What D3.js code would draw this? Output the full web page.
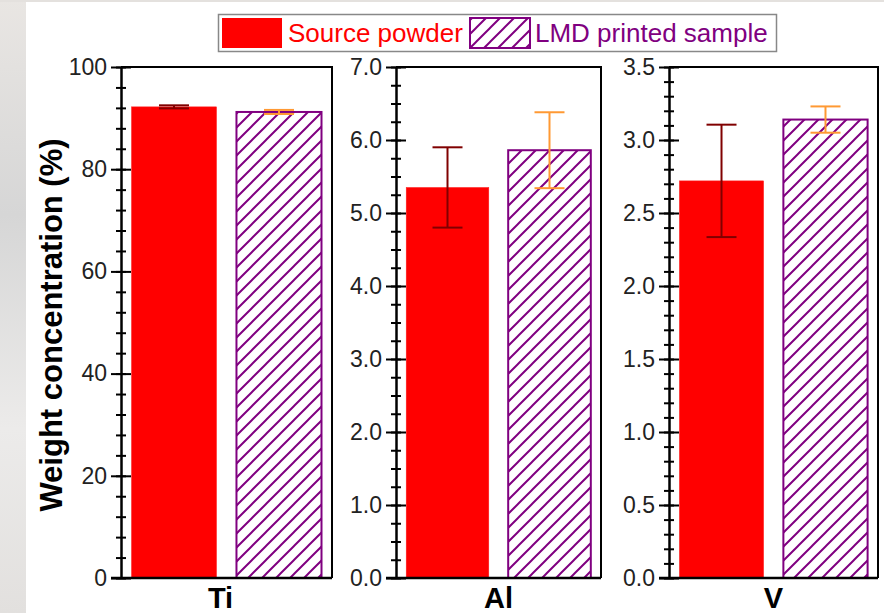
<!DOCTYPE html>
<html lang="en">

<head>
	<meta charset="UTF-8">
	<title>weight concentration</title>
	<script type="text/javascript" src="https://cdn.jsdelivr.net/npm/d3@7/dist/d3.min.js" charset="UTF-8"></script>
	<style>
		body { margin: 0; background: #fff; }
		text { font-family: 'Liberation Sans', Arial, sans-serif; }
	</style>
</head>

<body>
	<script type="text/javascript">
	// data
	let elements = ['Ti', 'Al', 'V']
	let series = ['Source powder', 'LMD printed sample']
	let sourceMean = [92.2, 5.35, 2.72]
	let sourceErr = [0.3, 0.55, 0.385]
	let lmdMean = [91.2, 5.86, 3.14]
	let lmdErr = [0.4, 0.52, 0.09]
	let yMax = [100, 7.0, 3.5]
	let majorStep = [20, 1, 0.5]
	let minorStep = [4, 0.25, 0.1]
	let tickFormat = ['d', '.1f', '.1f']

	let width = 884,
		height = 613;

	// layout of the three panels
	let panels = [
		{ left: 121, right: 332 },
		{ left: 396, right: 601 },
		{ left: 669, right: 878 }
	]
	let plotTop = 67,
		plotBottom = 578;

	let svg = d3.select('body').append('svg')
		.attr('width', width)
		.attr('height', height)

	let defs = svg.append('defs')

	let bg = defs.append('linearGradient')
		.attr('id', 'bg')
		.attr('x1', 0).attr('y1', 0).attr('x2', 0).attr('y2', 1)
	bg.append('stop').attr('offset', '0%').attr('stop-color', '#e9e6e3')
	bg.append('stop').attr('offset', '35%').attr('stop-color', '#d6d6d6')
	bg.append('stop').attr('offset', '70%').attr('stop-color', '#ecebea')
	bg.append('stop').attr('offset', '100%').attr('stop-color', '#e2e0de')

	let hatch = defs.append('pattern')
		.attr('id', 'hatch')
		.attr('patternUnits', 'userSpaceOnUse')
		.attr('width', 14)
		.attr('height', 14)
	hatch.append('path')
		.attr('d', 'M0,14 L14,0 M-3.5,3.5 L3.5,-3.5 M10.5,17.5 L17.5,10.5')
		.attr('stroke', '#800080')
		.attr('stroke-width', 2)

	// faded photo strip behind the figure
	svg.append('rect')
		.attr('x', 0).attr('y', 0)
		.attr('width', 26).attr('height', height)
		.attr('fill', 'url(#bg)')
	svg.append('rect')
		.attr('x', 0).attr('y', 0)
		.attr('width', width).attr('height', 2)
		.attr('fill', '#e4e1de')

	let color = d3.scaleOrdinal()
		.domain(series)
		.range(['#ff0000', 'url(#hatch)'])
	let errColor = d3.scaleOrdinal()
		.domain(series)
		.range(['#800000', '#ff9933'])

	elements.forEach((el, i) => {
		let p = panels[i]
		let x = d3.scaleBand()
			.domain(series)
			.range([p.left, p.right])
			.paddingInner(0.19)
			.paddingOuter(0.1)
		let y = d3.scaleLinear()
			.domain([0, yMax[i]])
			.range([plotBottom, plotTop])

		let rows = [
			{ s: series[0], v: sourceMean[i], e: sourceErr[i] },
			{ s: series[1], v: lmdMean[i], e: lmdErr[i] }
		]

		let g = svg.append('g')

		g.selectAll('rect.bar')
			.data(rows)
			.enter()
			.append('rect')
			.attr('class', 'bar')
			.attr('x', d => x(d.s))
			.attr('y', d => y(d.v))
			.attr('width', x.bandwidth())
			.attr('height', d => y(0) - y(d.v))
			.attr('fill', d => color(d.s))
			.attr('stroke', d => d.s === series[0] ? '#ff2020' : '#800080')
			.attr('stroke-width', d => d.s === series[0] ? 0.5 : 2)

		// error bars
		let eb = g.selectAll('g.err')
			.data(rows)
			.enter()
			.append('g')
			.attr('class', 'err')
			.attr('stroke', d => errColor(d.s))
			.attr('stroke-width', 2)
		eb.append('line')
			.attr('x1', d => x(d.s) + x.bandwidth() / 2)
			.attr('x2', d => x(d.s) + x.bandwidth() / 2)
			.attr('y1', d => y(d.v + d.e))
			.attr('y2', d => y(d.v - d.e))
		eb.selectAll('line.cap')
			.data(d => [{ s: d.s, at: d.v + d.e }, { s: d.s, at: d.v - d.e }])
			.enter()
			.append('line')
			.attr('class', 'cap')
			.attr('x1', d => x(d.s) + x.bandwidth() / 2 - 15)
			.attr('x2', d => x(d.s) + x.bandwidth() / 2 + 15)
			.attr('y1', d => y(d.at))
			.attr('y2', d => y(d.at))

		// frame: top and right
		g.append('path')
			.attr('d', `M${p.left},${plotTop}H${p.right}V${plotBottom}`)
			.attr('fill', 'none')
			.attr('stroke', '#000')
			.attr('stroke-width', 2)

		// minor ticks
		let minor = d3.range(0, yMax[i] + minorStep[i] / 2, minorStep[i])
		g.append('g')
			.attr('transform', `translate(${p.left},0)`)
			.call(d3.axisLeft(y).tickValues(minor).tickSizeInner(5).tickSizeOuter(0).tickFormat(''))
			.call(a => a.select('.domain').remove())
			.call(a => a.selectAll('line').attr('x2', -5).attr('x1', 5).attr('stroke-width', 2))

		// major ticks with labels
		let major = d3.range(0, yMax[i] + majorStep[i] / 2, majorStep[i])
		g.append('g')
			.attr('transform', `translate(${p.left},0)`)
			.call(d3.axisLeft(y).tickValues(major).tickSizeInner(10).tickSizeOuter(0).tickPadding(4).tickFormat(d3.format(tickFormat[i])))
			.call(a => a.select('.domain').attr('stroke-width', 2.5))
			.call(a => a.selectAll('line').attr('x2', -10).attr('x1', 10).attr('stroke-width', 2))
			.call(a => a.selectAll('text').attr('font-size', 23).attr('fill', '#222')
				.attr('font-family', "'Liberation Sans', Arial, sans-serif"))

		// bottom axis
		g.append('line')
			.attr('x1', p.left - 10)
			.attr('x2', p.right)
			.attr('y1', plotBottom)
			.attr('y2', plotBottom)
			.attr('stroke', '#000')
			.attr('stroke-width', 2.5)

		g.append('text')
			.attr('x', (p.left + p.right) / 2 - (i === 0 ? 6 : 0))
			.attr('y', 608)
			.attr('text-anchor', 'middle')
			.attr('font-size', 29)
			.attr('font-weight', 'bold')
			.text(el)
	})

	// y title
	svg.append('text')
		.attr('transform', 'translate(62,325) rotate(-90)')
		.attr('text-anchor', 'middle')
		.attr('font-size', 31)
		.attr('font-weight', 'bold')
		.text('Weight concentration (%)')

	// legend
	let legend = svg.append('g')
	legend.append('rect')
		.attr('x', 218.5).attr('y', 14.5)
		.attr('width', 558).attr('height', 37)
		.attr('fill', '#fff')
		.attr('stroke', '#888')
		.attr('stroke-width', 1.5)
	let items = [
		{ s: series[0], sx: 222, tx: 288, c: '#ff0000' },
		{ s: series[1], sx: 470, tx: 535, c: '#800080' }
	]
	legend.selectAll('rect.sw')
		.data(items)
		.enter()
		.append('rect')
		.attr('class', 'sw')
		.attr('x', d => d.sx)
		.attr('y', 18)
		.attr('width', 60)
		.attr('height', 30)
		.attr('fill', d => color(d.s))
		.attr('stroke', d => d.s === series[0] ? 'none' : '#800080')
		.attr('stroke-width', 2)
	legend.selectAll('text')
		.data(items)
		.enter()
		.append('text')
		.attr('x', d => d.tx)
		.attr('y', 42)
		.attr('font-size', 26)
		.attr('fill', d => d.c)
		.text(d => d.s)
	</script>
</body>

</html>
